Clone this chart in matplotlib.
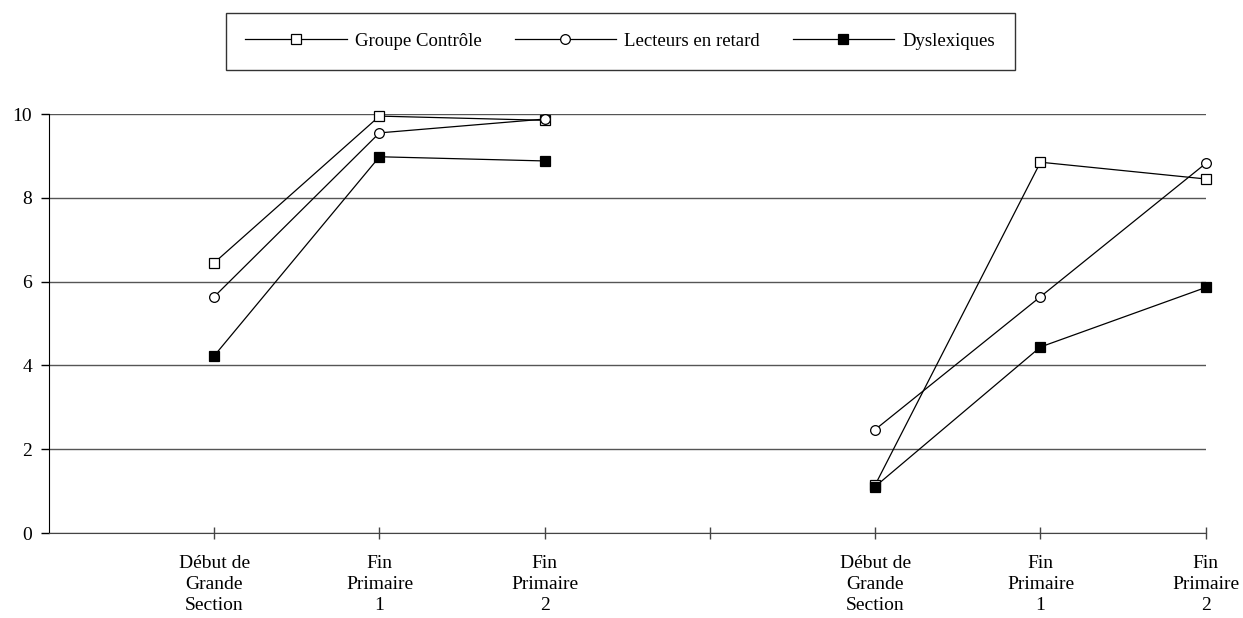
import matplotlib
matplotlib.use('Agg')
import matplotlib.pyplot as plt

# Data (two groups of three time points)
x_pos = [1, 2, 3, 5, 6, 7]
tick_pos = [1, 2, 3, 4, 5, 6, 7]
tick_labels = ['Début de\nGrande\nSection', 'Fin\nPrimaire\n1', 'Fin\nPrimaire\n2', '',
               'Début de\nGrande\nSection', 'Fin\nPrimaire\n1', 'Fin\nPrimaire\n2']

controle = [6.45, 9.95, 9.85, 1.15, 8.85, 8.45]
lecteurs = [5.64, 9.55, 9.88, 2.47, 5.64, 8.82]
dyslexiques = [4.23, 8.98, 8.88, 1.11, 4.44, 5.86]

plt.rcParams['font.family'] = ['Liberation Serif', 'DejaVu Serif']

fig = plt.figure(figsize=(12.43, 6.18), dpi=100)
ax = fig.add_axes([0.0394, 0.1375, 0.9306, 0.678])

series = [
    ('Groupe Contrôle', controle, 's', 'white'),
    ('Lecteurs en retard', lecteurs, 'o', 'white'),
    ('Dyslexiques', dyslexiques, 's', 'black'),
]

for name, vals, mk, fc in series:
    for i, part in enumerate([slice(0, 3), slice(3, 6)]):
        ax.plot(x_pos[part], vals[part], color='black', lw=0.9,
                marker=mk, markersize=7, markerfacecolor=fc,
                markeredgecolor='black', markeredgewidth=0.9,
                label=name if i == 0 else None, zorder=3, clip_on=False)

ax.set_xlim(0, 7)
ax.set_ylim(0, 10)
ax.set_yticks([0, 2, 4, 6, 8, 10])
ax.set_xticks(tick_pos)
ax.set_xticklabels(tick_labels, fontsize=14, linespacing=1.32)
ax.tick_params(axis='x', direction='inout', length=9, width=1, color='#444444', pad=11)
ax.tick_params(axis='y', direction='out', length=6, width=1, labelsize=14, pad=6)
ax.grid(axis='y', color='#555555', lw=1)
ax.set_axisbelow(True)

for s in ['top', 'right']:
    ax.spines[s].set_visible(False)
ax.spines['left'].set_color('black')
ax.spines['bottom'].set_color('#444444')

leg = fig.legend(loc='center', bbox_to_anchor=(0.499, 0.933), ncol=3,
                 frameon=True, fancybox=False, edgecolor='black', fontsize=13.5,
                 handlelength=5.4, handletextpad=0.45, columnspacing=1.75,
                 borderpad=1.05, borderaxespad=0)
leg.get_frame().set_linewidth(1)

fig.savefig('out.png', dpi=100)
